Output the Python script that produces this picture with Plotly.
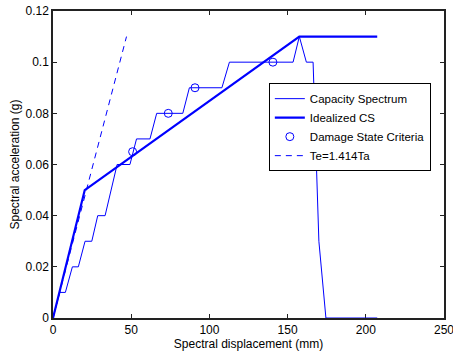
import plotly.graph_objects as go

# Capacity spectrum (stepped curve)
cs_x = [0, 4.3, 7.9, 12.4, 16.2, 20.5, 24.8, 28.6, 33.3, 41.0, 49.2, 53.4, 62.0, 66.3, 83.0, 87.2, 108.0, 112.8, 153.5, 157.5, 162.0, 166.3, 170.0, 174.5, 207.3]
cs_y = [0, 0.01, 0.01, 0.02, 0.02, 0.03, 0.03, 0.04, 0.04, 0.06, 0.06, 0.07, 0.07, 0.08, 0.08, 0.09, 0.09, 0.10, 0.10, 0.11, 0.10, 0.10, 0.03, 0.0, 0.0]

# Idealized capacity spectrum
ics_x = [0, 20.3, 157.5, 207.3]
ics_y = [0, 0.05, 0.11, 0.11]

# Damage state criteria
ds_x = [50.9, 73.7, 90.8, 140.6]
ds_y = [0.065, 0.08, 0.09, 0.10]

# Te = 1.414 Ta line
te_x = [0, 47.0]
te_y = [0, 0.11]

x_ticks = [0, 50, 100, 150, 200, 250]
y_ticks = [0, 0.02, 0.04, 0.06, 0.08, 0.1, 0.12]
y_tick_text = ["0", "0.02", "0.04", "0.06", "0.08", "0.1", "0.12"]

blue = "rgb(0,0,255)"
fig = go.Figure()
fig.add_trace(go.Scatter(x=cs_x, y=cs_y, mode="lines", name="Capacity Spectrum",
                         line=dict(color=blue, width=1), cliponaxis=False))
fig.add_trace(go.Scatter(x=ics_x, y=ics_y, mode="lines", name="Idealized CS",
                         line=dict(color=blue, width=2.2)))
fig.add_trace(go.Scatter(x=ds_x, y=ds_y, mode="markers", name="Damage State Criteria",
                         marker=dict(symbol="circle-open", color=blue, size=8, line=dict(width=1, color=blue))))
fig.add_trace(go.Scatter(x=te_x, y=te_y, mode="lines", name="Te=1.414Ta",
                         line=dict(color=blue, width=1, dash="6px,5px")))

font = dict(family="Liberation Sans, Arial, sans-serif", size=12, color="black")
fig.update_layout(
    width=453, height=352,
    margin=dict(l=53, r=9, t=11, b=34),
    paper_bgcolor="white", plot_bgcolor="white",
    font=font,
    showlegend=True,
    legend=dict(x=0.552, y=0.765, xanchor="left", yanchor="top",
                bordercolor="black", borderwidth=1, bgcolor="white",
                font=dict(family="Liberation Sans, Arial, sans-serif", size=11.5, color="black"),
                tracegroupgap=0, itemwidth=30),
)
axis_common = dict(ticks="inside", ticklen=4, tickcolor="#222",
                   showline=True, linecolor="#222", linewidth=1.5, mirror="ticks",
                   showgrid=False, zeroline=False, automargin=False,
                   ticklabeloverflow="allow", layer="below traces")
fig.update_xaxes(range=[0, 250], tickvals=x_ticks, **axis_common,
                 title=dict(text="Spectral displacement (mm)", standoff=2, font=font))
fig.update_yaxes(range=[0, 0.12], tickvals=y_ticks, ticktext=y_tick_text, **axis_common,
                 title=dict(text="Spectral acceleration (g)", standoff=3, font=font))

fig.write_html("out.html")
